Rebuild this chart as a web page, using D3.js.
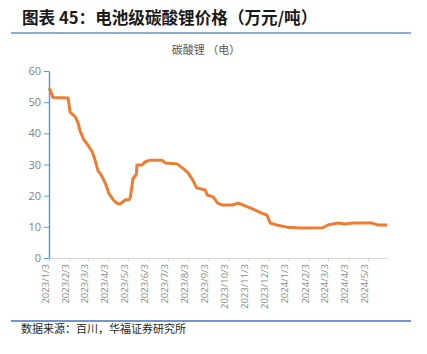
<!DOCTYPE html>
<html><head><meta charset="utf-8">
<script src="https://cdn.jsdelivr.net/npm/d3@7"></script>
<style>body{margin:0;background:#fff}svg{display:block}</style>
</head><body>
<svg id="c" width="427" height="354"></svg>
<script>
const title = "图表 45：电池级碳酸锂价格（万元/吨）";
const seriesName = "碳酸锂 （电）";
const source = "数据来源：百川，华福证券研究所";
const dates = ["2023-01-03","2023-01-06","2023-01-09","2023-02-01","2023-02-02","2023-02-04","2023-02-12","2023-02-16","2023-02-19","2023-02-21","2023-02-25","2023-03-03","2023-03-10","2023-03-14","2023-03-19","2023-03-22","2023-03-25","2023-03-31","2023-04-04","2023-04-11","2023-04-17","2023-04-21","2023-04-29","2023-05-05","2023-05-07","2023-05-11","2023-05-16","2023-05-17","2023-05-25","2023-05-29","2023-06-06","2023-06-24","2023-06-29","2023-07-17","2023-07-25","2023-08-03","2023-08-10","2023-08-16","2023-08-29","2023-09-01","2023-09-10","2023-09-17","2023-09-24","2023-10-10","2023-10-18","2023-10-26","2023-11-10","2023-11-23","2023-12-01","2023-12-06","2023-12-16","2024-01-01","2024-01-20","2024-02-24","2024-03-03","2024-03-18","2024-03-29","2024-04-10","2024-05-09","2024-05-18","2024-06-01"];
const values = [54.5,53.3,51.5,51.3,50.0,46.8,45.3,43.5,41.0,40.0,38.0,36.3,34.0,31.5,27.8,27.2,26.0,23.4,20.8,18.6,17.5,17.3,18.6,18.8,19.5,25.5,26.8,29.8,29.8,30.8,31.4,31.4,30.5,30.2,28.9,27.3,25.0,22.5,21.8,20.2,19.6,17.6,17.0,17.0,17.6,17.0,15.7,14.4,13.8,11.2,10.6,9.9,9.6,9.7,10.6,11.2,10.9,11.2,11.2,10.6,10.6];
const xTicks = ["2023/1/3","2023/2/3","2023/3/3","2023/4/3","2023/5/3","2023/6/3","2023/7/3","2023/8/3","2023/9/3","2023/10/3","2023/11/3","2023/12/3","2024/1/3","2024/2/3","2024/3/3","2024/4/3","2024/5/3"];
const yTicks = [0,10,20,30,40,50,60];

const svg = d3.select("#c");
const parse = d3.timeParse("%Y-%m-%d");
const parseT = d3.timeParse("%Y/%m/%d");
const data = dates.map((d,i)=>({d:parse(d), v:values[i]}));
const x = d3.scaleTime().domain([parse("2023-01-03"), parse("2024-06-01")]).range([49,387]);
const y = d3.scaleLinear().domain([0,60]).range([258,71]);

svg.append("text").attr("x",22).attr("y",24).attr("font-family","'Noto Sans CJK SC', sans-serif")
  .attr("font-weight","bold").attr("font-size",16.6).attr("fill","#1a1a1a").text(title);
svg.append("line").attr("x1",11).attr("x2",411).attr("y1",33).attr("y2",33).attr("stroke","#8eaadb").attr("stroke-width",2);
svg.append("text").attr("x",206).attr("y",54).attr("text-anchor","middle").attr("font-family","'Noto Sans CJK SC', sans-serif")
  .attr("font-size",11).attr("fill","#595959").text(seriesName);

// x axis
const xa = svg.append("g").attr("transform","translate(0,258)")
  .call(d3.axisBottom(x).tickValues(xTicks.map(parseT)).tickFormat((d,i)=>xTicks[i]).tickSize(4).tickSizeOuter(0));
xa.select(".domain").attr("stroke","#d9d9d9");
xa.selectAll(".tick line").attr("stroke","#d9d9d9");
xa.selectAll("text").attr("transform","rotate(-90)").attr("text-anchor","end").attr("x",-6).attr("y",-4).attr("dy","0.35em")
  .attr("fill","#8c8c8c").attr("font-size",9.5).attr("font-family","'Open Sans', sans-serif");
// y axis
const ya = svg.append("g").attr("transform","translate(49,0)")
  .call(d3.axisLeft(y).tickValues(yTicks).tickSize(5).tickSizeOuter(0));
ya.select(".domain").attr("stroke","#5b9bd5").attr("stroke-width",1.5);
ya.selectAll(".tick line").attr("stroke","#5b9bd5");
ya.selectAll("text").attr("x",-8).attr("fill","#7f7f7f").attr("font-size",11).attr("font-family","'Open Sans', sans-serif");

svg.append("path").datum(data).attr("fill","none").attr("stroke","#ed7d31").attr("stroke-width",3)
  .attr("stroke-linejoin","round").attr("d", d3.line().x(d=>x(d.d)).y(d=>y(d.v)));

svg.append("line").attr("x1",11).attr("x2",411).attr("y1",321).attr("y2",321).attr("stroke","#4472c4").attr("stroke-width",1.5);
svg.append("text").attr("x",21).attr("y",333).attr("font-family","'Noto Sans CJK SC', sans-serif")
  .attr("font-size",11).attr("fill","#262626").text(source);
</script>
</body></html>
